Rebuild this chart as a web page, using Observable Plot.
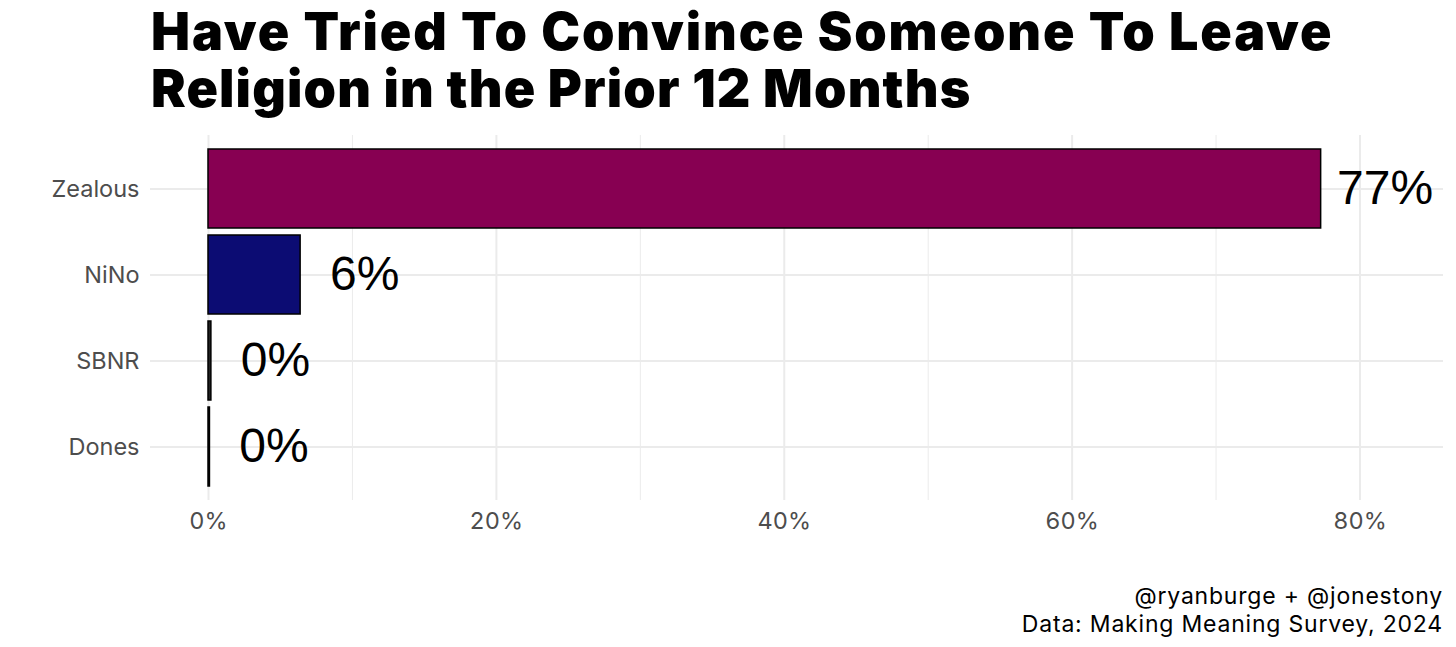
<!DOCTYPE html>
<html>
<head>
<meta charset="utf-8">
<script src="https://cdn.jsdelivr.net/npm/d3@7"></script>
<script src="https://cdn.jsdelivr.net/npm/@observablehq/plot@0.6"></script>
<style>
  html, body { margin: 0; padding: 0; background: #fff; }
  #wrap { position: relative; width: 1456px; height: 647px; overflow: hidden; background: #fff; }
  #title { position: absolute; left: 151px; top: 3px; font-family: Inter, "Noto Sans", sans-serif; font-weight: 900; font-size: 52px; line-height: 57px; color: #000; white-space: nowrap; }
  #title .l1 { letter-spacing: 1.9px; }
  #title .l2 { letter-spacing: 1.15px; }
  #chart { position: absolute; left: 0; top: 130px; }
  #caption { position: absolute; right: 13px; top: 582px; text-align: right; font-family: Inter, "Noto Sans", sans-serif; font-size: 23px; line-height: 28px; letter-spacing: 0.8px; color: #000; white-space: nowrap; }
</style>
</head>
<body>
<div id="wrap">
  <div id="title"><span class="l1">Have Tried To Convince Someone To Leave</span><br><span class="l2">Religion in the Prior 12 Months</span></div>
  <div id="chart"></div>
  <div id="caption">@ryanburge + @jonestony<br>Data: Making Meaning Survey, 2024</div>
</div>
<script>
const categories = ["Zealous", "NiNo", "SBNR", "Dones"];
const values = [77.3, 6.4, 0.2, 0.1];
const labels = ["77%", "6%", "0%", "0%"];
const colors = ["#870052", "#0c0c73", "#222222", "#333333"];
const xTicks = [0, 20, 40, 60, 80];
const xMinor = [10, 30, 50, 70];

const data = categories.map((c, i) => ({group: c, value: values[i], label: labels[i], color: colors[i]}));

const chart = Plot.plot({
  width: 1456,
  height: 430,
  marginTop: 5,
  marginBottom: 60,
  marginLeft: 150,
  marginRight: 13,
  style: {fontFamily: "Inter, 'Noto Sans', sans-serif", background: "#fff"},
  x: {domain: [-4.03, 85.8]},
  y: {domain: categories, paddingInner: 0.08, paddingOuter: 0.16},
  color: {type: "identity"},
  marks: [
    Plot.ruleX(xMinor, {stroke: "#ebebeb", strokeWidth: 1}),
    Plot.ruleX(xTicks, {stroke: "#ebebeb", strokeWidth: 2}),
    Plot.ruleY(categories, {y: d => d, stroke: "#ebebeb", strokeWidth: 2}),
    Plot.barX(data, {x: "value", y: "group", fill: "color", stroke: "#000", strokeWidth: 1.5}),
    Plot.text(data, {x: "value", y: "group", text: "label", dx: 64, textAnchor: "middle", fontSize: 48, fontFamily: "'Liberation Sans', Arial, sans-serif", fill: "#000"}),
    Plot.axisX(xTicks, {tickSize: 0, tickPadding: 12, fontSize: 23.5, color: "#4d4d4d", tickFormat: d => d + "%", label: null}),
    Plot.axisY({tickSize: 0, tickPadding: 11, fontSize: 23.5, color: "#4d4d4d", label: null})
  ]
});
document.getElementById("chart").appendChild(chart);
</script>
</body>
</html>
